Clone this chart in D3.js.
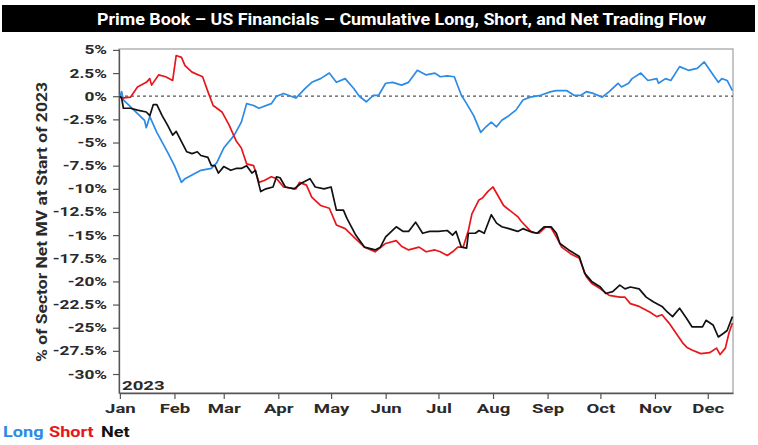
<!DOCTYPE html>
<html>
<head>
<meta charset="utf-8">
<script src="https://cdn.jsdelivr.net/npm/d3@7"></script>
<style>
body { margin: 0; background: #fff; }
text { font-family: Roboto, "Liberation Sans", sans-serif; font-weight: bold; }
</style>
</head>
<body>
<svg id="chart" width="758" height="445"></svg>
<script>
// Long flow (% of sector net MV)
let longDates = ["01-01","01-02","01-03","01-09","01-15","01-16","01-18","01-22","01-28","02-01","02-05","02-07","02-11","02-16","02-22","02-25","03-01","03-07","03-11","03-14","03-18","03-21","03-28","03-31","04-04","04-11","04-16","04-20","04-25","04-30","05-04","05-09","05-14","05-17","05-21","05-25","05-28","06-01","06-05","06-10","06-14","06-19","06-24","06-29","07-02","07-06","07-10","07-14","07-17","07-21","07-25","07-28","07-31","08-03","08-06","08-10","08-14","08-18","08-22","08-28","09-03","09-06","09-12","09-16","09-20","09-23","09-27","10-02","10-06","10-11","10-13","10-17","10-19","10-24","10-28","11-02","11-03","11-07","11-10","11-15","11-20","11-25","11-29","12-03","12-07","12-09","12-12","12-15"];
let longValues = [0,0.5,-0.4,-1.5,-2.6,-3.4,-2.2,-3.9,-6.0,-7.5,-9.3,-8.9,-8.5,-8.0,-7.8,-7.2,-5.6,-4.2,-2.8,-0.8,-1.0,-1.3,-0.8,0.0,0.3,-0.2,0.8,1.5,1.9,2.5,1.5,1.9,0.8,0.0,-0.6,0.1,0.1,1.4,1.5,1.2,1.5,2.8,2.3,2.5,2.1,2.2,2.1,0.1,-0.8,-2.1,-3.9,-3.3,-2.8,-3.3,-2.6,-2.1,-1.5,-0.4,-0.1,0.1,0.5,0.6,0.6,0.1,0.1,0.5,0.3,-0.1,0.5,1.4,1.0,1.4,1.9,2.5,1.7,1.9,1.4,1.9,1.7,3.2,2.8,3.0,3.7,2.6,1.5,1.9,1.7,0.6];

// Short flow
let shortDates = ["01-01","01-02","01-07","01-11","01-16","01-18","01-19","01-23","01-27","01-31","02-02","02-05","02-07","02-11","02-17","02-20","02-23","02-28","03-04","03-08","03-11","03-14","03-18","03-21","03-24","03-28","03-31","04-04","04-11","04-13","04-17","04-20","04-25","04-30","05-04","05-09","05-15","05-20","05-26","06-01","06-07","06-10","06-14","06-20","06-24","06-29","07-02","07-06","07-09","07-12","07-15","07-18","07-20","07-24","07-26","07-29","08-01","08-07","08-15","08-17","08-23","08-27","08-31","09-03","09-06","09-09","09-14","09-19","09-23","09-26","10-01","10-06","10-12","10-15","10-18","10-23","10-29","11-02","11-05","11-09","11-13","11-17","11-19","11-22","11-27","12-02","12-06","12-08","12-11","12-13","12-15"];
let shortValues = [0,-0.2,-0.1,1.0,1.5,1.9,1.2,2.3,2.1,1.7,4.4,4.2,3.3,2.6,2.1,0.5,-1.0,-1.7,-3.1,-4.8,-5.6,-7.3,-7.5,-9.3,-9.1,-8.7,-8.9,-9.8,-10.0,-9.3,-9.6,-10.9,-11.8,-12.1,-13.9,-14.3,-15.4,-16.3,-16.8,-15.9,-15.6,-16.2,-16.6,-16.3,-16.8,-16.6,-16.8,-17.2,-16.8,-16.3,-16.3,-14.5,-12.7,-11.2,-11.0,-10.3,-9.8,-11.8,-13.0,-13.5,-14.7,-14.8,-14.1,-14.2,-15.2,-16.3,-17.0,-17.5,-19.5,-20.2,-20.8,-21.5,-21.7,-21.7,-22.4,-22.7,-23.3,-23.8,-23.6,-24.5,-25.6,-26.7,-27.1,-27.4,-27.8,-27.7,-27.2,-27.9,-27.2,-25.6,-24.5];

// Net flow
let netDates = ["01-01","01-02","01-03","01-07","01-11","01-16","01-18","01-20","01-22","01-25","01-28","01-31","02-02","02-05","02-08","02-11","02-14","02-16","02-20","02-22","02-24","02-26","03-01","03-05","03-08","03-11","03-14","03-17","03-19","03-22","03-25","03-29","03-31","04-02","04-05","04-10","04-14","04-19","04-22","04-27","05-01","05-04","05-08","05-10","05-15","05-20","05-26","05-29","06-01","06-07","06-11","06-14","06-18","06-22","06-26","07-01","07-06","07-09","07-11","07-14","07-17","07-18","07-22","07-24","07-27","07-31","08-03","08-06","08-10","08-15","08-18","08-22","08-26","08-30","09-03","09-06","09-08","09-13","09-19","09-22","09-26","10-01","10-04","10-08","10-12","10-15","10-18","10-23","10-27","10-31","11-05","11-08","11-11","11-15","11-19","11-22","11-28","11-30","12-04","12-07","12-10","12-12","12-15"];
let netValues = [0,-0.2,-1.3,-1.3,-1.5,-1.7,-2.1,-0.9,-0.9,-2.1,-3.1,-4.2,-3.8,-4.9,-6.0,-6.2,-6.0,-6.4,-6.6,-7.5,-7.5,-8.3,-7.6,-8.0,-7.8,-7.8,-7.5,-8.3,-8.0,-10.3,-10.0,-9.8,-8.7,-8.8,-9.8,-10.0,-9.4,-8.9,-9.8,-10.0,-9.8,-12.3,-12.3,-13.2,-15.0,-16.3,-16.6,-16.3,-15.2,-14.1,-14.6,-14.6,-13.6,-14.8,-14.6,-14.6,-14.5,-15.0,-14.6,-16.3,-16.4,-14.8,-14.8,-14.5,-14.8,-12.8,-13.7,-14.1,-14.3,-14.6,-14.3,-14.6,-14.8,-14.1,-14.1,-14.8,-15.9,-16.6,-17.3,-19.1,-20.0,-20.6,-21.3,-21.1,-20.4,-20.8,-20.6,-20.8,-21.7,-22.2,-22.7,-23.3,-23.8,-22.9,-24.0,-24.9,-24.9,-24.2,-24.7,-26.0,-25.6,-25.3,-23.8];

let yTicks = [5, 2.5, 0, -2.5, -5, -7.5, -10, -12.5, -15, -17.5, -20, -22.5, -25, -27.5, -30];
let monthLabels = ["Jan","Feb","Mar","Apr","May","Jun","Jul","Aug","Sep","Oct","Nov","Dec"];

let title = "Prime Book \u2013 US Financials \u2013 Cumulative Long, Short, and Net Trading Flow";
let yTitle = "% of Sector Net MV at Start of 2023";

const parseDay = d3.timeParse("%Y-%m-%d");
function toPoints(dates, values) {
	return dates.map((d, i) => ({ date: parseDay("2023-" + d), value: values[i] }));
}

let series = [
	{ name: "Long", color: "#2b8be6", points: toPoints(longDates, longValues) },
	{ name: "Short", color: "#e8161b", points: toPoints(shortDates, shortValues) },
	{ name: "Net", color: "#111111", points: toPoints(netDates, netValues) }
];

// plot box
const plotL = 119, plotR = 733, plotT = 49, plotB = 393;
// the picture's text is wide, so glyphs get stretched sideways
const wide = 1.38;

let svg = d3.select("#chart");

let x = d3.scaleTime()
	.domain([new Date(2022, 11, 31, 12), new Date(2023, 11, 15, 8)])
	.range([plotL, plotR]);

let y = d3.scaleLinear()
	.domain([-32.05, 5.1])
	.range([plotB, plotT]);

// title bar
svg.append("rect")
	.attr("x", 2).attr("y", 5)
	.attr("width", 753).attr("height", 27)
	.attr("fill", "#000");

svg.append("text")
	.attr("x", 97).attr("y", 24.5)
	.attr("fill", "#fff")
	.attr("font-size", 16)
	.attr("textLength", 609)
	.attr("lengthAdjust", "spacingAndGlyphs")
	.text(title);

// plot frame
svg.append("rect")
	.attr("x", plotL).attr("y", plotT)
	.attr("width", plotR - plotL).attr("height", plotB - plotT)
	.attr("fill", "none")
	.attr("stroke", "#8c8c8c")
	.attr("stroke-width", 1);

// zero line
svg.append("line")
	.attr("x1", plotL).attr("x2", plotR)
	.attr("y1", y(0)).attr("y2", y(0))
	.attr("stroke", "#555")
	.attr("stroke-width", 1.3)
	.attr("stroke-dasharray", "3,3");

// y axis
let yAxis = svg.append("g")
	.attr("transform", "translate(" + plotL + ",0)")
	.call(d3.axisLeft(y)
		.tickValues(yTicks)
		.tickSize(6)
		.tickSizeOuter(0)
		.tickFormat(d => d + "%"));

yAxis.select(".domain").attr("stroke", "#555").attr("stroke-width", 1.3);
yAxis.selectAll(".tick line").attr("stroke", "#555").attr("stroke-width", 1.2);
yAxis.selectAll(".tick text")
	.attr("font-size", 12.5)
	.attr("fill", "#2a2a2a")
	.attr("x", -12 / wide)
	.attr("transform", "scale(" + wide + ",1)")
	.style("font-family", "Roboto, sans-serif")
	.style("font-weight", "bold");

// x axis
let months = d3.timeMonth.range(new Date(2023, 0, 1), new Date(2023, 11, 2));

let xAxis = svg.append("g")
	.attr("transform", "translate(0," + plotB + ")")
	.call(d3.axisBottom(x)
		.tickValues(months)
		.tickSize(6)
		.tickSizeOuter(0)
		.tickFormat((d, i) => monthLabels[i]));

xAxis.select(".domain").attr("stroke", "#555").attr("stroke-width", 1.3);
xAxis.selectAll(".tick line").attr("stroke", "#555").attr("stroke-width", 1.2);
xAxis.selectAll(".tick text")
	.attr("font-size", 13.5)
	.attr("fill", "#2a2a2a")
	.attr("y", 10)
	.attr("transform", "scale(" + wide + ",1)")
	.style("font-family", "Roboto, sans-serif")
	.style("font-weight", "bold");

// y axis title
svg.append("text")
	.attr("transform", "translate(47,222) rotate(-90)")
	.attr("text-anchor", "middle")
	.attr("font-size", 15)
	.attr("fill", "#2a2a2a")
	.attr("textLength", 280)
	.attr("lengthAdjust", "spacingAndGlyphs")
	.text(yTitle);

// year tag
svg.append("text")
	.attr("transform", "translate(122,390) scale(" + wide + ",1)")
	.attr("font-size", 13.5)
	.attr("fill", "#2a2a2a")
	.text("2023");

// lines
let line = d3.line()
	.x(d => x(d.date))
	.y(d => y(d.value));

svg.append("g")
	.selectAll("path")
	.data(series)
	.join("path")
	.attr("d", d => line(d.points))
	.attr("fill", "none")
	.attr("stroke", d => d.color)
	.attr("stroke-width", 1.7)
	.attr("stroke-linejoin", "round");

// legend
let legendX = [3, 49, 101];
svg.append("g")
	.selectAll("text")
	.data(series)
	.join("text")
	.attr("transform", (d, i) => "translate(" + legendX[i] + ",437) scale(1.25,1)")
	.attr("font-size", 14.5)
	.attr("fill", d => d.color)
	.text(d => d.name);
</script>
</body>
</html>
